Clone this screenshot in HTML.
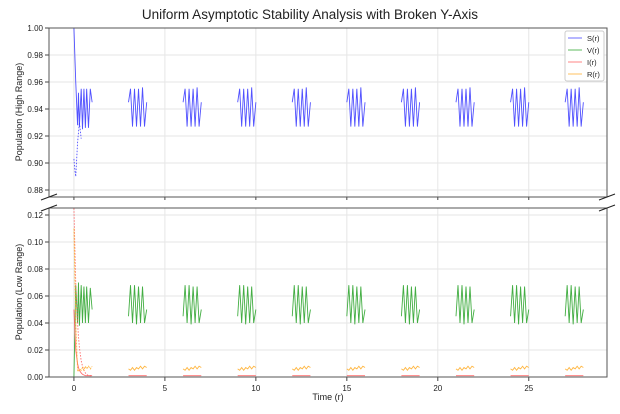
<!DOCTYPE html>
<html><head><meta charset="utf-8"><style>
body{margin:0;background:#fff;font-family:"Liberation Sans",sans-serif}
svg text{font-family:"Liberation Sans",sans-serif;fill:#222}
</style></head><body>
<svg id="c" width="620" height="409">
<text x="310" y="19" text-anchor="middle" font-size="13.5">Uniform Asymptotic Stability Analysis with Broken Y-Axis</text>
</svg>
<script>
// data
const segmentStarts=[3,6,9,12,15,18,21,24,27];
const phase=[0,0.11,0.22,0.33,0.44,0.55,0.66,0.77,0.88,1.0];
const sPattern=[0.945,0.955,0.927,0.955,0.927,0.955,0.927,0.956,0.927,0.945];
const vPattern=[0.045,0.068,0.04,0.068,0.039,0.067,0.04,0.067,0.04,0.05];
const rPattern=[0.006,0.005,0.007,0.005,0.007,0.006,0.008,0.006,0.008,0.007];
const iPattern=[0.001,0.001,0.001,0.001,0.001,0.001,0.001,0.001,0.001,0.001];
const firstT=[0,0.1,0.2,0.25,0.3,0.4,0.47,0.55,0.63,0.7,0.8,0.9,1.0];
const firstS=[1.0,0.96,0.928,0.952,0.927,0.955,0.925,0.955,0.926,0.955,0.926,0.955,0.945];
const firstV=[0,0.068,0.04,0.07,0.038,0.068,0.04,0.067,0.04,0.067,0.04,0.066,0.05];
const firstI=[0.05,0.02,0.01,0.007,0.005,0.003,0.002,0.0015,0.001,0.001,0.001,0.001,0.001];
const firstIdot=[0.125,0.07,0.04,0.03,0.022,0.012,0.008,0.005,0.003,0.002,0.001,0.001,0.001];
const firstR=[0.11,0.04,0.005,0.004,0.006,0.005,0.007,0.005,0.008,0.006,0.008,0.006,0.008];
const xTicks=[0,5,10,15,20,25];
const topTicks=[0.88,0.90,0.92,0.94,0.96,0.98,1.00];
const lowTicks=[0.00,0.02,0.04,0.06,0.08,0.10,0.12];
const colors={S:'#3333ff',V:'#22a022',I:'#ff5555',R:'#ffaa22'};

const NS='http://www.w3.org/2000/svg',svg=document.getElementById('c');
const L=49,R=607,T1=28,B1=197,T2=208,B2=377;
const x=t=>L+(t+1.37)/(30.67)*(R-L);
const yTop=v=>T1+(1.0-v)*1350;
const yLow=v=>B2-v*1350;
function el(tag,attrs,parent){const e=document.createElementNS(NS,tag);for(const k in attrs)e.setAttribute(k,attrs[k]);(parent||svg).appendChild(e);return e;}

// grids
xTicks.forEach(t=>{
 const g1=el('line',{x1:x(t),x2:x(t),y1:T1,y2:B1,stroke:'#e6e6e6'});
 
 const g2=el('line',{x1:x(t),x2:x(t),y1:T2,y2:B2,stroke:'#e6e6e6'});
 
 el('line',{x1:x(t),x2:x(t),y1:B2,y2:B2+4,stroke:'#444'});
 const tx=el('text',{x:x(t),y:B2+14,'text-anchor':'middle','font-size':'8'});tx.textContent=t;
 
 el('line',{x1:x(t),x2:x(t),y1:B1,y2:B1+3,stroke:'#444'});
});
topTicks.forEach(v=>{
 el('line',{x1:L,x2:R,y1:yTop(v),y2:yTop(v),stroke:'#e6e6e6'});
 el('line',{x1:L-4,x2:L,y1:yTop(v),y2:yTop(v),stroke:'#444'});
 const tx=el('text',{x:L-6,y:yTop(v)+3,'text-anchor':'end','font-size':'8'});tx.textContent=v.toFixed(2);
 
});
lowTicks.forEach(v=>{
 el('line',{x1:L,x2:R,y1:yLow(v),y2:yLow(v),stroke:'#e6e6e6'});
 el('line',{x1:L-4,x2:L,y1:yLow(v),y2:yLow(v),stroke:'#444'});
 const tx=el('text',{x:L-6,y:yLow(v)+3,'text-anchor':'end','font-size':'8'});tx.textContent=v.toFixed(2);
 
});

function line(ts,vs,yf,color,name,dash,clip){
 const p=el('polyline',{points:ts.map((t,i)=>x(t)+','+yf(vs[i])).join(' '),fill:'none',stroke:color,'stroke-width':'0.9','stroke-opacity':'0.85','clip-path':clip});
 if(dash)p.setAttribute('stroke-dasharray',dash);
 
}
el('clipPath',{id:'ct'});el('rect',{x:L,y:T1,width:R-L,height:B1-T1},document.getElementById('ct'));
el('clipPath',{id:'cl'});el('rect',{x:L,y:T2,width:R-L,height:B2-T2},document.getElementById('cl'));
const ct='url(#ct)',cl='url(#cl)';

line(firstT,firstS,yTop,colors.S,'s-line-initial',null,ct);
line([0,0.05,0.1,0.2,0.3,0.4],[0.903,0.895,0.89,0.915,0.93,0.918],yTop,colors.S,'s-line-dotted','1.5,1.5',ct);
line(firstT,firstV,yLow,colors.V,'v-line-initial',null,cl);
line(firstT,firstI,yLow,colors.I,'i-line-initial',null,cl);
line(firstT,firstIdot,yLow,colors.I,'i-line-dotted','1.5,1.5',cl);
line(firstT,firstR,yLow,colors.R,'r-line-initial','2,1',cl);
segmentStarts.forEach(s=>{
 const ts=phase.map(p=>s+p);
 line(ts,sPattern,yTop,colors.S,'s-line-segment',null,ct);
 line(ts,vPattern,yLow,colors.V,'v-line-segment',null,cl);
 line(ts,rPattern,yLow,colors.R,'r-line-segment',null,cl);
 line(ts,iPattern,yLow,colors.I,'i-line-segment',null,cl);
});

// frames
el('rect',{x:L,y:T1,width:R-L,height:B1-T1,fill:'none',stroke:'#555'});
el('rect',{x:L,y:T2,width:R-L,height:B2-T2,fill:'none',stroke:'#555'});
[[L,B1],[R,B1],[L,T2],[R,T2]].forEach(([a,b])=>el('line',{x1:a-8,y1:b+3,x2:a+8,y2:b-3,stroke:'#222'}));

// labels
const yl1=el('text',{transform:'translate(22,112) rotate(-90)','text-anchor':'middle','font-size':'9'});yl1.textContent='Population (High Range)';

const yl2=el('text',{transform:'translate(22,292) rotate(-90)','text-anchor':'middle','font-size':'9'});yl2.textContent='Population (Low Range)';

const xl=el('text',{x:328,y:400,'text-anchor':'middle','font-size':'9'});xl.textContent='Time (r)';


// legend
const lg=el('g',{});
el('rect',{x:565,y:31,width:39,height:50,fill:'#fff',stroke:'#ccc',rx:2},lg);
[['S',colors.S],['V',colors.V],['I',colors.I],['R',colors.R]].forEach(([n,c],i)=>{
 const yy=38+i*12;
 el('line',{x1:568,x2:582,y1:yy,y2:yy,stroke:c,'stroke-width':'1.2','stroke-opacity':'0.6'},lg);
 const t=el('text',{x:587,y:yy+3,'font-size':'7.5'},lg);t.textContent=n+'(r)';
 
});
</script>
</body></html>
